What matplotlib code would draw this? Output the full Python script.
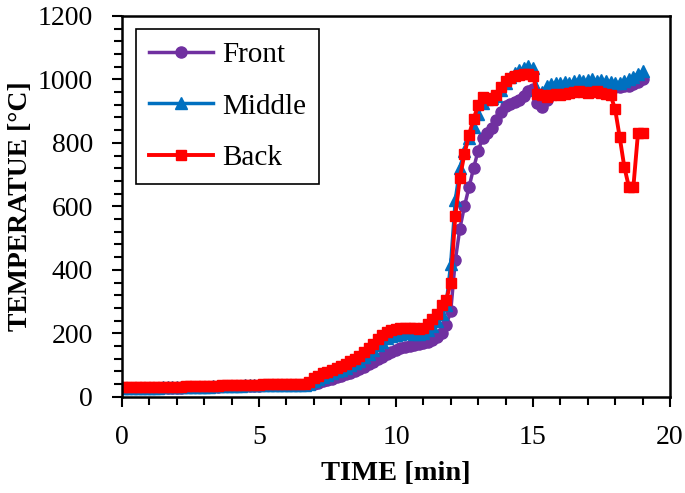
import numpy as np
import matplotlib
matplotlib.use("Agg")
import matplotlib.pyplot as plt
from matplotlib.ticker import MultipleLocator

# --- data (sampled every 10 s) ---
minutes = np.arange(115) / 6.0

front = [
    27, 27, 27, 27, 28, 28, 28, 28, 28, 29,
    29, 29, 29, 29, 30, 30, 30, 31, 31, 31,
    32, 32, 33, 33, 34, 34, 34, 35, 35, 35,
    35, 36, 36, 36, 36, 36, 37, 37, 37, 37,
    37, 39, 42, 45, 49, 53, 57, 61, 66, 71,
    76, 82, 88, 95, 102, 110, 118, 126, 134, 142,
    149, 154, 158, 161, 163, 165, 169, 174, 180, 189,
    202, 225, 270, 430, 530, 600, 660, 720, 775, 815,
    832, 846, 872, 897, 916, 923, 928, 935, 948, 962,
    970, 925, 912, 935, 950, 955, 958, 960, 962, 965,
    965, 968, 966, 968, 970, 968, 970, 972, 975, 976,
    978, 980, 985, 992, 1000,
]

middle = [
    28, 28, 28, 28, 29, 29, 29, 29, 29, 30,
    30, 30, 30, 30, 31, 31, 31, 32, 32, 32,
    33, 33, 34, 34, 35, 35, 35, 36, 36, 36,
    36, 37, 37, 37, 37, 37, 38, 38, 38, 38,
    38, 42, 49, 57, 64, 70, 75, 80, 86, 92,
    99, 106, 114, 124, 136, 149, 162, 174, 184, 191,
    196, 199, 200, 200, 199, 199, 202, 210, 223, 240,
    262, 290, 420, 620, 720, 775, 815, 850, 890, 925,
    938, 940, 948, 968, 990, 1008, 1020, 1028, 1035, 1042,
    1035, 968, 960, 978, 985, 990, 988, 992, 990, 995,
    998, 995, 997, 1000, 996, 998, 995, 993, 990, 990,
    995, 1000, 1008, 1018, 1025,
]

back = [
    30, 30, 30, 30, 31, 31, 31, 31, 31, 32,
    32, 32, 32, 32, 33, 33, 33, 34, 34, 34,
    35, 35, 36, 36, 37, 37, 37, 38, 38, 38,
    38, 39, 39, 39, 39, 39, 40, 40, 40, 40,
    40, 48, 58, 66, 74, 79, 84, 90, 97, 105,
    112, 119, 128, 140, 153, 168, 182, 194, 204, 210,
    214, 216, 217, 217, 216, 215, 218, 228, 245, 262,
    290, 305, 360, 570, 690, 765, 825, 875, 918, 944,
    942, 935, 950, 975, 995, 1005, 1012, 1015, 1017, 1018,
    1012, 955, 950, 945, 952, 955, 950, 955, 958, 960,
    962, 960, 958, 960, 962, 958, 955, 950, 906, 818,
    725, 662, 662, 830, 830,
]

C_FRONT = '#7030A0'
C_MIDDLE = '#0070C0'
C_BACK = '#FF0000'

plt.rcParams['font.family'] = ['Liberation Serif', 'DejaVu Serif']

fig = plt.figure(figsize=(6.85, 4.93), dpi=100)
ax = fig.add_axes([0.178, 0.195, 0.80, 0.7728])

ax.plot(minutes, front, '-o', color=C_FRONT, lw=2.5, ms=8, label='Front')
ax.plot(minutes, middle, '-^', color=C_MIDDLE, lw=2.5, ms=8.5, label='Middle')
ax.plot(minutes, back, '-s', color=C_BACK, lw=2.8, ms=7.8, label='Back')

ax.set_xlim(0, 20)
ax.set_ylim(0, 1200)
ax.xaxis.set_major_locator(MultipleLocator(5))
ax.xaxis.set_minor_locator(MultipleLocator(1))
ax.yaxis.set_major_locator(MultipleLocator(200))
ax.yaxis.set_minor_locator(MultipleLocator(40))

ax.tick_params(axis='both', which='major', direction='out', length=7, width=1.5,
               labelsize=20, color='black')
ax.tick_params(axis='both', which='minor', direction='out', length=6, width=1.5,
               color='black')
ax.tick_params(axis='y', which='major', pad=14)
ax.tick_params(axis='x', which='major', pad=13)

for s in ax.spines.values():
    s.set_linewidth(1.8)
    s.set_color('black')

ax.set_xlabel('TIME [min]', fontsize=20.5, fontweight='bold', labelpad=8)
ax.set_ylabel('TEMPERATUE [°C]', fontsize=20, fontweight='bold', labelpad=3)

leg = ax.legend(loc='upper left', bbox_to_anchor=(0.0255, 0.966), borderaxespad=0,
                fontsize=21, frameon=True, fancybox=False, framealpha=1,
                edgecolor='black', handlelength=2.2, handletextpad=0.3,
                labelspacing=0.85, borderpad=0.45)
leg.get_frame().set_linewidth(1.2)

fig.savefig('out.png', dpi=100)
